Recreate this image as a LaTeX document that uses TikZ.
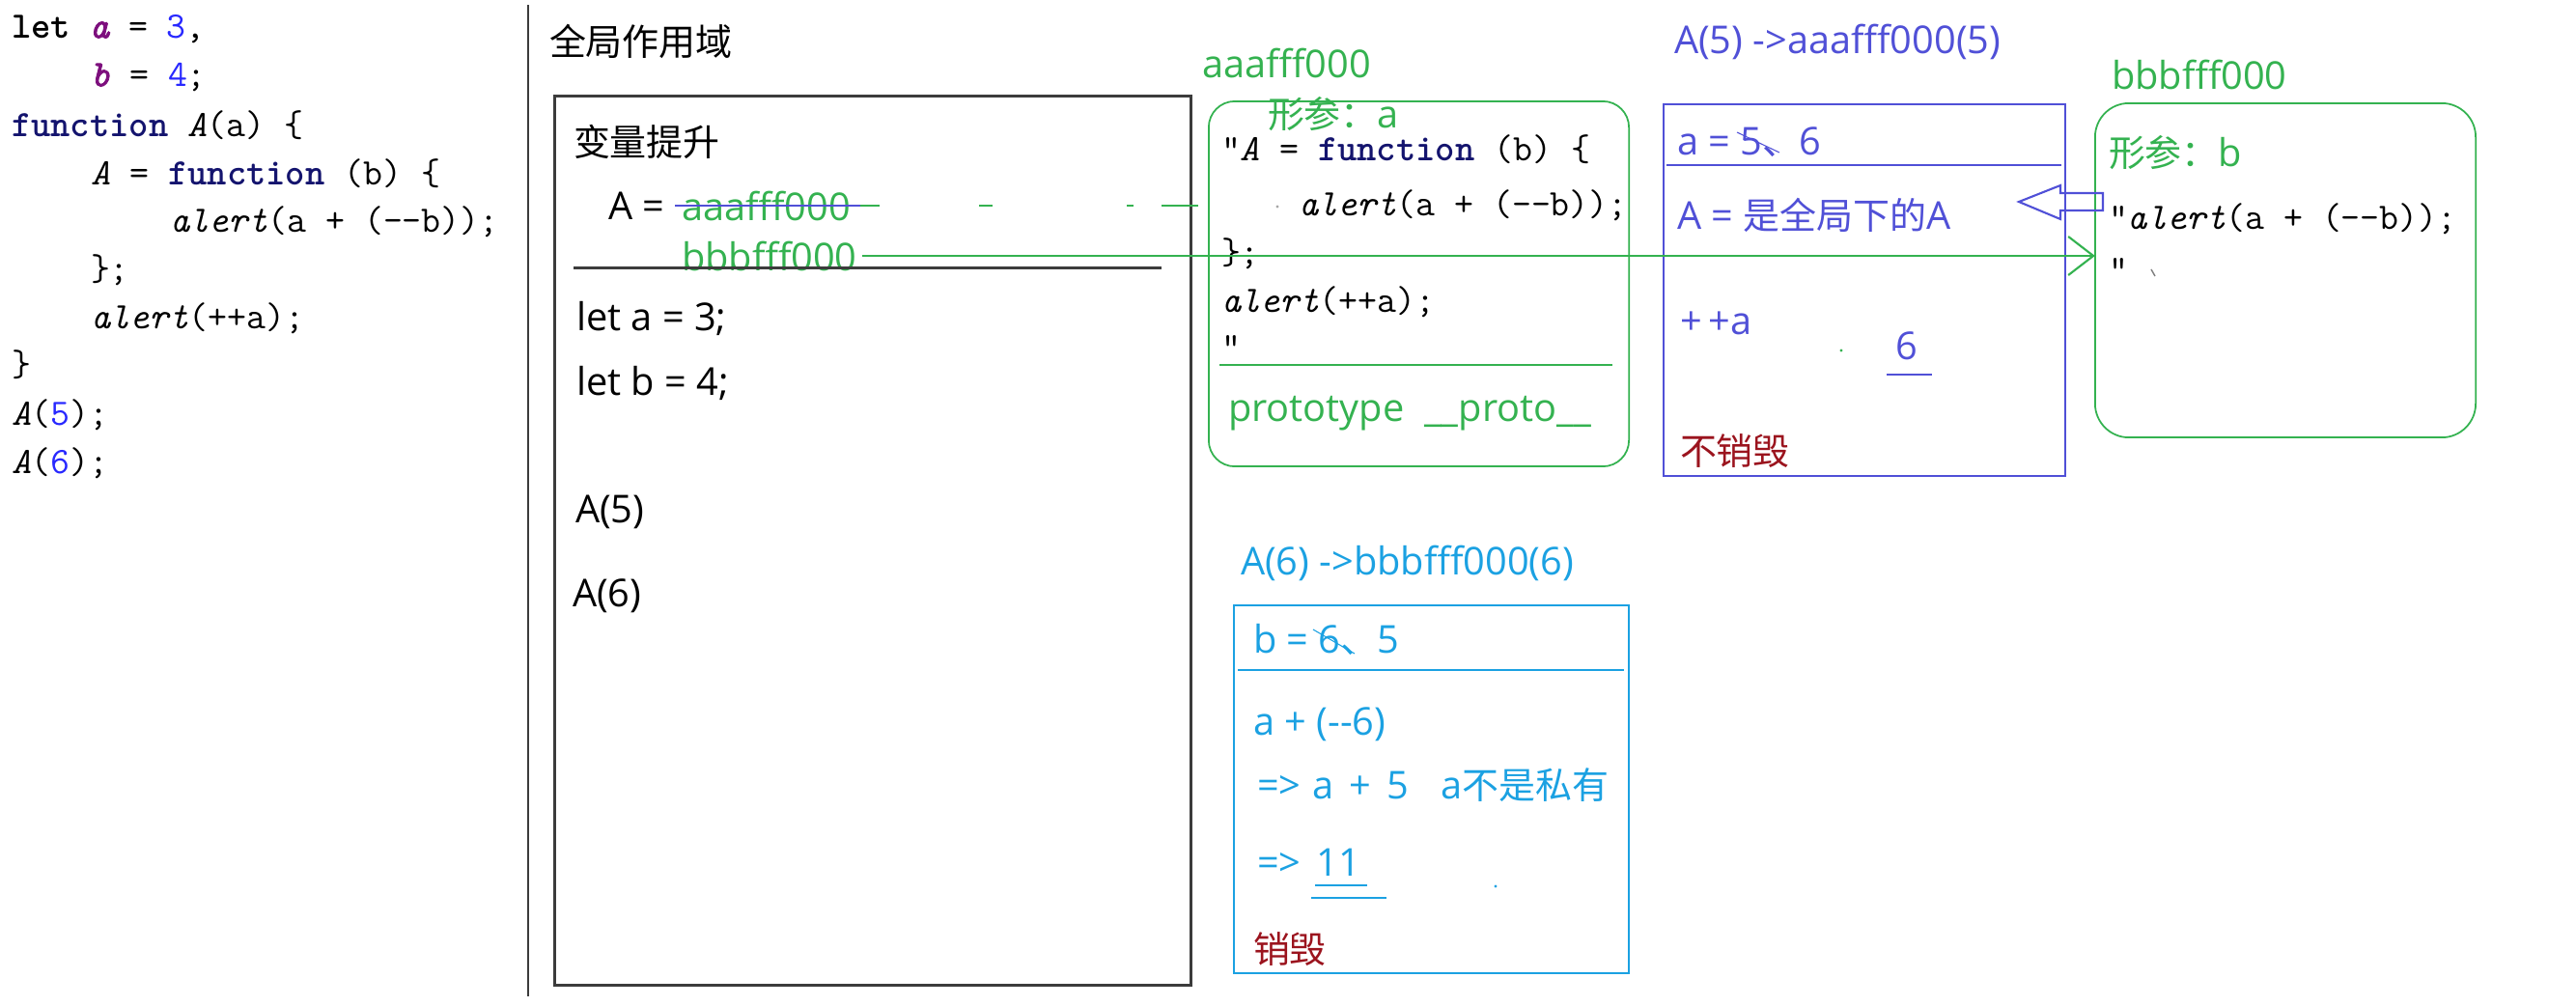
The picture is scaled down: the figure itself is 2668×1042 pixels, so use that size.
\documentclass[tikz,border=0pt]{standalone}
\usepackage{fontspec}
\setmainfont{Open Sans}
\newfontfamily\cjk{Noto Sans CJK SC}
\newfontface\monobi{lmmono10-italic.otf}[FakeBold=2]
\usetikzlibrary{arrows.meta,calc}
\definecolor{grn}{RGB}{52,178,80}
\definecolor{bl}{RGB}{80,80,215}
\definecolor{cy}{RGB}{27,161,226}
\definecolor{dred}{RGB}{155,20,30}
\definecolor{boxgray}{RGB}{60,60,60}
\definecolor{cpurple}{RGB}{125,15,125}
\definecolor{cblue}{RGB}{40,40,255}
\definecolor{cnavy}{RGB}{20,20,110}
\newcommand\cnt[1]{{\cjk\fontsize{10.8}{13}\selectfont #1}}
\newcommand\dq{\XeTeXglyph\XeTeXcharglyph"22\relax}
\newcommand\mm{-\kern0pt-}
\newcommand\pv[1]{{\color{cpurple}\monobi #1}}
\begin{document}
\begin{tikzpicture}[x=0.01cm,y=-0.01cm,
  every node/.style={inner sep=0pt,outer sep=0pt},
  lbl/.style={anchor=west,font=\fontsize{11.3}{13}\selectfont},
  codeln/.style={anchor=west,font=\ttfamily\fontsize{11}{13}\selectfont},
  gbox/.style={draw=grn,line width=0.5pt},
  thinline/.style={line width=0.6pt}]
\useasboundingbox (0,0) rectangle (2668,1042);
% ---------- source code ----------
\node[codeln] (c0) at (12,30) {\textbf{let} \pv{a} = {\color{cblue}3},};
\node[codeln] (c1) at (94,80) {\pv{b} = {\color{cblue}4};};
\node[codeln] (c2) at (12,130) {{\color{cnavy}\textbf{function}} \textit{A}(a) \{};
\node[codeln] (c3) at (94,180) {\textit{A} = {\color{cnavy}\textbf{function}} (b) \{};
\node[codeln] (c4) at (176,230) {\textit{alert}(a + (\mm b));};
\node[codeln] (c5) at (94,280) {\};};
\node[codeln] (c6) at (94,330) {\textit{alert}(++a);};
\node[codeln] (c7) at (12,378) {\}};
\node[codeln] (c8) at (12,430) {\textit{A}({\color{cblue}5});};
\node[codeln] (c9) at (12,480) {\textit{A}({\color{cblue}6});};
\draw[boxgray,line width=0.8pt] (547,5) -- (547,1032);
% ---------- global scope ----------
\node[lbl] (gtitle) at (569,43) {\cnt{全局作用域}};
\node[draw=boxgray,line width=0.85pt,minimum width=6.58cm,minimum height=9.2cm] (gbox) at (904,560) {};
\node[lbl] (hoist) at (594,147) {\cnt{变量提升}};
\node[lbl] (Aeq) at (630,213) {A =};
\node[lbl,text=grn] (aaa) at (706,213) {aaafff000};
\node[lbl,text=grn] (bbb) at (706,265) {bbbfff000};
\draw[boxgray,line width=0.85pt] (594,277) -- (1203,277);
\node[lbl] (leta) at (597,330) {let a = 3;};
\node[lbl] (letb) at (597,397) {let b = 4;};
\node[lbl] (call5) at (596,530) {A(5)};
\node[lbl] (call6) at (593,617) {A(6)};
% ---------- heap aaafff000 ----------
\node[lbl,text=grn] (alabel) at (1245,65) {aaafff000};
\node[gbox,rounded corners=0.27cm,minimum width=4.35cm,minimum height=3.78cm] (abox) at (1469.5,294) {};
\node[lbl,text=grn] (aparam) at (1313,118) {\cnt{形参：}a};
\node[codeln] (ac1) at (1265,155) {\dq\textit{A} = {\color{cnavy}\textbf{function}} (b) \{};
\fill[gray!70] (1323,214) circle (1.6);
\node[codeln] (ac2) at (1345,213) {\textit{alert}(a + (\mm b));};
\node[codeln] (ac3) at (1265,263) {\};};
\node[codeln] (ac4) at (1265,313) {\textit{alert}(++a);};
\node[codeln] (ac5) at (1265,360) {\dq};
\draw[grn,line width=0.5pt] (1263,378) -- (1670,378);
\node[lbl,text=grn] (proto) at (1272,428) {prototype\ \ \_\_proto\_\_};
% strike + dashed link
\draw[bl,line width=0.6pt] ($(aaa.west)+(-7,0)$) -- ($(aaa.east)+(10,0)$);
\draw[grn,line width=0.6pt,dash pattern=on 5.7pt off 29.3pt on 4pt off 39.5pt on 2pt off 8.2pt on 10.8pt off 3.7pt]
  ($(aaa.east)+(10,0)$) -- (aaa.east -| abox.west);
% ---------- A(5) scope ----------
\node[lbl,text=bl] (a5t) at (1734,43) {A(5) ->aaafff000(5)};
\node[draw=bl,line width=0.7pt,minimum width=4.16cm,minimum height=3.85cm] (a5box) at (1931,300.5) {};
\node[lbl,text=bl] (a5a) at (1737,147) {a = 5\cnt{、}6};
\draw[bl,line width=0.3pt] (1799,137) -- (1843,158);
\draw[bl,line width=0.7pt] (1726,171) -- (2135,171);
\node[lbl,text=bl] (a5A) at (1737,223) {A = \cnt{是全局下的}A};
\node[lbl,text=bl] (pp) at (1740,335) {+\hspace{2pt}+a};
\fill[grn] (1907,363) circle (1.6);
\node[lbl,text=bl] (six) at (1963,358) {6};
\draw[bl,line width=0.6pt] (1954,388) -- (2001,388);
\node[lbl,text=dred] (keep) at (1740,467) {\cnt{不销毁}};
% ---------- heap bbbfff000 ----------
\node[lbl,text=grn] (blabel) at (2187,77) {bbbfff000};
\node[gbox,rounded corners=0.35cm,minimum width=3.94cm,minimum height=3.46cm] (bbox) at (2367,280) {};
\node[lbl,text=grn] (bparam) at (2184,158) {\cnt{形参：}b};
\node[codeln] (bc1) at (2184,227) {\dq\textit{alert}(a + (\mm b));};
\node[codeln] (bc2) at (2184,280) {\dq};
\draw[gray,line width=0.4pt] (2228,279) -- (2232,286);
% hollow arrow
\draw[bl,line width=0.6pt] (2091,209) -- (2134,192) -- (2134,200) -- (2178,200) -- (2178,218) -- (2134,218) -- (2134,227) -- cycle;
% green pointer
\draw[grn,line width=0.6pt,-{Straight Barb[length=0.26cm,width=0.4cm]}] ($(bbb.east)+(5,0)$) -- (bbb.east -| bbox.west);
% ---------- A(6) scope ----------
\node[lbl,text=cy] (a6t) at (1285,583) {A(6) ->bbbfff000(6)};
\node[draw=cy,line width=0.7pt,minimum width=4.09cm,minimum height=3.81cm] (a6box) at (1482.5,817.5) {};
\node[lbl,text=cy] (b65) at (1298,662) {b = 6\cnt{、}5};
\draw[cy,line width=0.3pt] (1360,652) -- (1403,677);
\draw[cy,line width=0.7pt] (1282,694) -- (1682,694);
\node[lbl,text=cy] (expr) at (1298,750) {a + (\mm 6)};
\node[lbl,text=cy] (step1) at (1302,813) {=>\hspace{0.3em}a\hspace{0.15em} +\hspace{0.15em} 5};
\node[lbl,text=cy] (note) at (1492,813) {a\cnt{不是私有}};
\node[lbl,text=cy] (res) at (1302,893) {=>\hspace{0.4em}11};
\draw[cy,line width=0.6pt] (1362,917) -- (1416,917);
\draw[cy,line width=0.6pt] (1358,930) -- (1436,930);
\fill[cy] (1549,918) circle (1.6);
\node[lbl,text=dred] (gone) at (1298,983) {\cnt{销毁}};
\end{tikzpicture}
\end{document}
